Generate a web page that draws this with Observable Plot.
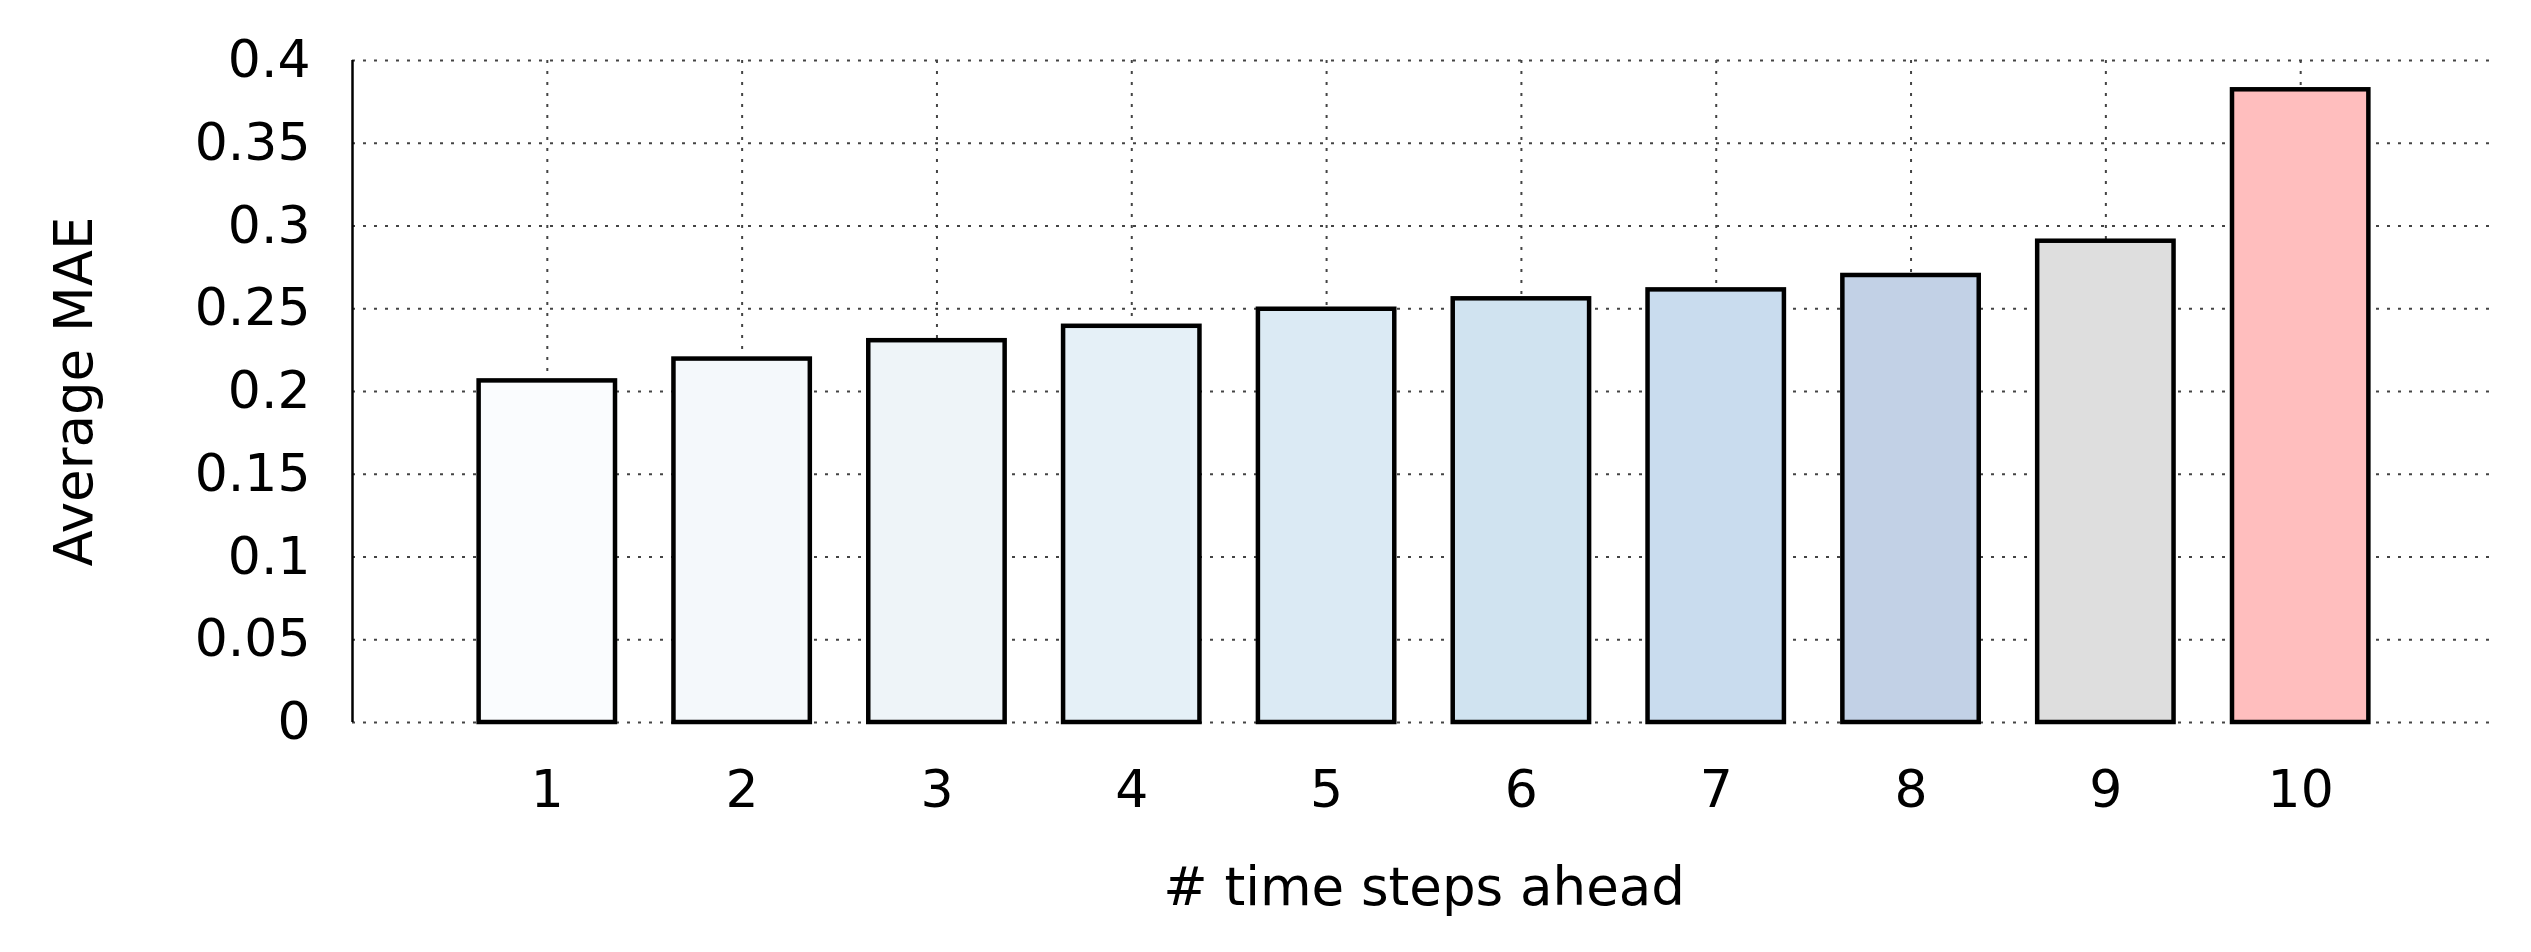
<!DOCTYPE html>
<html>
<head>
<meta charset="utf-8">
<script src="https://cdn.jsdelivr.net/npm/d3@7"></script>
<script src="https://cdn.jsdelivr.net/npm/@observablehq/plot@0.6"></script>
<style>
  html, body { margin: 0; padding: 0; background: #fff; }
  svg { display: block; }
</style>
</head>
<body>
<div id="chart"></div>
<script>
const steps = [1, 2, 3, 4, 5, 6, 7, 8, 9, 10];
const mae = [0.2064, 0.2196, 0.2307, 0.2394, 0.2497, 0.2560, 0.2614, 0.2701, 0.2908, 0.3823];
const barColors = ["#fafcfe", "#f4f8fb", "#eef4f8", "#e5f0f7", "#dbeaf4", "#d0e3f0", "#c9dcee", "#c2d1e6", "#dedede", "#ffbebe"];
const yTicks = [0, 0.05, 0.1, 0.15, 0.2, 0.25, 0.3, 0.35, 0.4];
const yTickLabels = ["0", "0.05", "0.1", "0.15", "0.2", "0.25", "0.3", "0.35", "0.4"];
const xTickLabels = ["1", "2", "3", "4", "5", "6", "7", "8", "9", "10"];
const xTitle = "# time steps ahead";
const yTitle = "Average MAE";

const data = steps.map((s, i) => ({step: s, value: mae[i]}));
const gridStyle = {stroke: "#444", strokeOpacity: 1, strokeWidth: 2, strokeDasharray: "3,8"};

const chart = Plot.plot({
  width: 2531,
  height: 952,
  marginLeft: 352,
  marginRight: 36,
  marginTop: 60,
  marginBottom: 230,
  style: {fontFamily: "DejaVu Sans", fontSize: "52px", color: "#000", background: "#fff"},
  x: {domain: [0, 11], axis: null},
  y: {domain: [0, 0.4], axis: null},
  color: {type: "ordinal", domain: steps, range: barColors},
  marks: [
    Plot.gridY(yTicks, gridStyle),
    Plot.gridX(steps, gridStyle),
    Plot.rectY(data, {
      x1: d => d.step - 0.35,
      x2: d => d.step + 0.35,
      y1: 0,
      y2: "value",
      fill: "step",
      stroke: "#000",
      strokeWidth: 4.5
    }),
    Plot.ruleX([0], {y1: 0, y2: 0.4, stroke: "#000", strokeWidth: 2.5}),
    Plot.axisY(yTicks, {
      tickSize: 0,
      tickPadding: 42,
      tickFormat: d => yTickLabels[yTicks.indexOf(d)],
      fontSize: 52,
      label: null
    }),
    Plot.axisX(steps, {
      tickSize: 0,
      tickPadding: 48,
      tickFormat: d => xTickLabels[steps.indexOf(d)],
      fontSize: 52,
      label: null
    }),
    Plot.text([xTitle], {text: d => d, frameAnchor: "bottom", dy: 182, lineAnchor: "bottom", textAnchor: "middle", fontSize: 53, fill: "#000"}),
    Plot.text([yTitle], {text: d => d, frameAnchor: "left", dx: -261, rotate: -90, lineAnchor: "bottom", textAnchor: "middle", fontSize: 53, fill: "#000"})
  ]
});
document.getElementById("chart").appendChild(chart);
</script>
</body>
</html>
